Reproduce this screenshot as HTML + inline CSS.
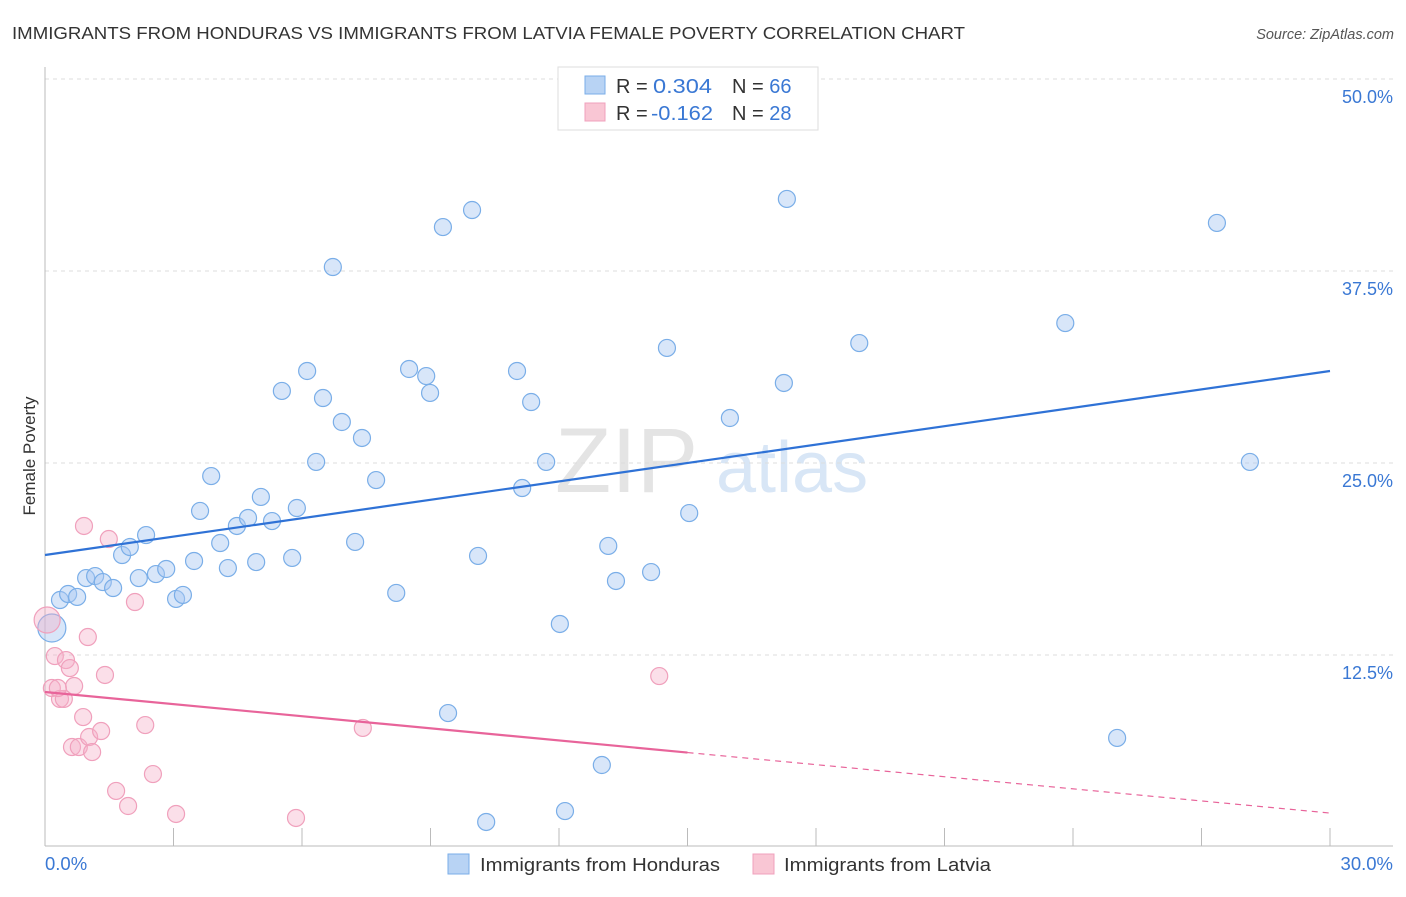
<!DOCTYPE html>
<html><head><meta charset="utf-8"><style>
body{margin:0;background:#fff;font-family:"Liberation Sans",sans-serif;}
svg text{font-family:"Liberation Sans",sans-serif;}
</style></head><body>
<svg id="chart" width="1406" height="892">
<text x="12" y="39" font-size="17.5" fill="#333" textLength="953" lengthAdjust="spacingAndGlyphs">IMMIGRANTS FROM HONDURAS VS IMMIGRANTS FROM LATVIA FEMALE POVERTY CORRELATION CHART</text>
<text x="1394" y="39" font-size="14.5" fill="#555" font-style="italic" text-anchor="end">Source: ZipAtlas.com</text>
<text x="35" y="456" font-size="17" fill="#333" text-anchor="middle" transform="rotate(-90 35 456)">Female Poverty</text>
<g><text x="555" y="492" font-size="92" fill="#e4e4e4" font-family="Liberation Serif">ZIP</text><text x="716" y="492" font-size="72" fill="#d8e6f6">atlas</text></g>
<g id="grid"></g><g id="axes"></g><g id="marks"></g>
<g>
<rect x="558" y="67" width="260" height="63" fill="#fff" stroke="#ddd"/>
<rect x="585" y="76" width="20" height="18" fill="#b8d3f4" stroke="#7aaee8"/>
<rect x="585" y="103" width="20" height="18" fill="#f9c6d4" stroke="#f0a0bc"/>
<text x="616" y="93" font-size="20" fill="#333">R =</text>
<text x="653" y="93" font-size="20" fill="#3a78d4" textLength="59" lengthAdjust="spacingAndGlyphs">0.304</text>
<text x="732" y="93" font-size="20" fill="#333">N = <tspan fill="#3a78d4">66</tspan></text>
<text x="616" y="120" font-size="20" fill="#333">R =</text>
<text x="651" y="120" font-size="20" fill="#3a78d4" textLength="62" lengthAdjust="spacingAndGlyphs">-0.162</text>
<text x="732" y="120" font-size="20" fill="#333">N = <tspan fill="#3a78d4">28</tspan></text>
</g>
<g>
<rect x="448" y="854" width="21" height="20" fill="#b8d3f4" stroke="#7aaee8"/>
<text x="480" y="871" font-size="18.5" fill="#333" textLength="240" lengthAdjust="spacingAndGlyphs">Immigrants from Honduras</text>
<rect x="753" y="854" width="21" height="20" fill="#f9c6d4" stroke="#f0a0bc"/>
<text x="784" y="871" font-size="18.5" fill="#333" textLength="207" lengthAdjust="spacingAndGlyphs">Immigrants from Latvia</text>
</g>
</svg>
<script>
const yTicks=[12.5,25,37.5,50];
const yTickLabels=["12.5%","25.0%","37.5%","50.0%"];
const xTicks=[0,3,6,9,12,15,18,21,24,27,30];
const xEndLabels=["0.0%","30.0%"];
const hondX=[0.16,0.35,0.54,0.75,0.96,1.17,1.35,1.59,1.80,1.98,2.19,2.36,2.59,2.83,3.06,3.22,3.48,3.62,3.88,4.09,4.27,4.48,4.74,4.93,5.04,5.30,5.53,5.77,5.88,6.12,6.33,6.49,6.72,6.93,7.24,7.40,7.73,8.20,8.50,8.90,8.99,9.29,9.41,9.97,10.11,10.30,11.02,11.14,11.35,11.70,12.02,12.14,13.00,13.15,13.33,14.15,14.52,15.04,15.99,17.25,17.32,19.01,23.82,25.03,27.36,28.13];
const hondY=[14.26,16.08,16.47,16.28,17.51,17.64,17.25,16.86,19.01,19.53,17.51,20.31,17.77,18.10,16.15,16.41,18.62,21.88,24.15,19.79,18.16,20.90,21.42,18.55,22.79,21.22,29.69,18.82,22.07,30.99,25.07,29.23,37.76,27.67,19.86,26.63,23.89,16.54,31.12,30.66,29.56,40.36,8.72,41.47,18.95,1.63,30.99,23.37,28.97,25.07,14.52,2.34,5.34,19.60,17.32,17.90,32.49,21.74,27.93,30.21,42.19,32.81,34.11,7.10,40.63,25.07];
const latX=[0.05,0.16,0.23,0.35,0.49,0.58,0.68,0.44,0.63,0.79,0.89,0.91,1.00,1.03,1.10,1.31,1.40,1.49,1.66,1.94,2.10,2.34,2.52,3.06,5.86,7.42,14.34,0.30];
const latY=[14.78,10.35,12.43,9.64,12.17,11.65,10.48,9.64,6.51,6.51,8.46,20.90,13.67,7.16,6.18,7.55,11.20,20.05,3.65,2.67,15.95,7.94,4.75,2.15,1.89,7.75,11.13,10.35];
const hondTrend=[19.01,30.99];
const latTrend=[10.09,2.21];
const latSolidEnd=15.0;
const NS="http://www.w3.org/2000/svg";
const X=v=>45+v*(1285/30), Y=v=>847-v*15.36;
function mk(t,a,p){const e=document.createElementNS(NS,t);for(const k in a)e.setAttribute(k,a[k]);p.appendChild(e);return e;}
const grid=document.getElementById('grid'),axes=document.getElementById('axes'),marks=document.getElementById('marks');
yTicks.forEach((t,i)=>{
 const l=mk('line',{x1:45,x2:1393,y1:Y(t),y2:Y(t),stroke:'#ddd','stroke-dasharray':'4,4'},grid);
 
 
 const tx=mk('text',{x:1393,y:Y(t)+24,'font-size':18,fill:'#3a78d4','text-anchor':'end'},axes);
 tx.textContent=yTickLabels[i];
 
 
});
let a=mk('line',{x1:45,x2:45,y1:67,y2:846,stroke:'#bbb'},axes);


a=mk('line',{x1:45,x2:1393,y1:846,y2:846,stroke:'#bbb'},axes);


xTicks.forEach(t=>{
 const l=mk('line',{x1:X(t),x2:X(t),y1:828,y2:846,stroke:'#bbb'},axes);
 
 
});
[[0,'start',45],[1,'end',1393]].forEach(([i,anc,x])=>{
 const tx=mk('text',{x:x,y:870,'font-size':18.5,fill:'#3a78d4','text-anchor':anc},axes);
 tx.textContent=xEndLabels[i];
 
 
});
function pts(xs,ys,fill,stroke,name){
 xs.forEach((x,i)=>{
  const r=(i===0)?(name==='honduras-point'?14:13):8.5;
  const c=mk('circle',{cx:X(x),cy:Y(ys[i]),r:r,fill:fill,stroke:stroke,'stroke-width':1.2},marks);
  
  
 });
}
pts(hondX,hondY,'rgba(168,200,242,0.45)','#7aaee8','honduras-point');
pts(latX,latY,'rgba(246,176,200,0.4)','#f0a0bc','latvia-point');
let t=mk('line',{x1:X(0),y1:Y(hondTrend[0]),x2:X(30),y2:Y(hondTrend[1]),stroke:'#2f72d6','stroke-width':2.2},marks);


const ly=v=>latTrend[0]+(latTrend[1]-latTrend[0])*v/30;
t=mk('line',{x1:X(0),y1:Y(latTrend[0]),x2:X(latSolidEnd),y2:Y(ly(latSolidEnd)),stroke:'#e8649a','stroke-width':2.2},marks);


t=mk('line',{x1:X(latSolidEnd),y1:Y(ly(latSolidEnd)),x2:X(30),y2:Y(latTrend[1]),stroke:'#e8649a','stroke-width':1.2,'stroke-dasharray':'6,5'},marks);


</script>
</body></html>
